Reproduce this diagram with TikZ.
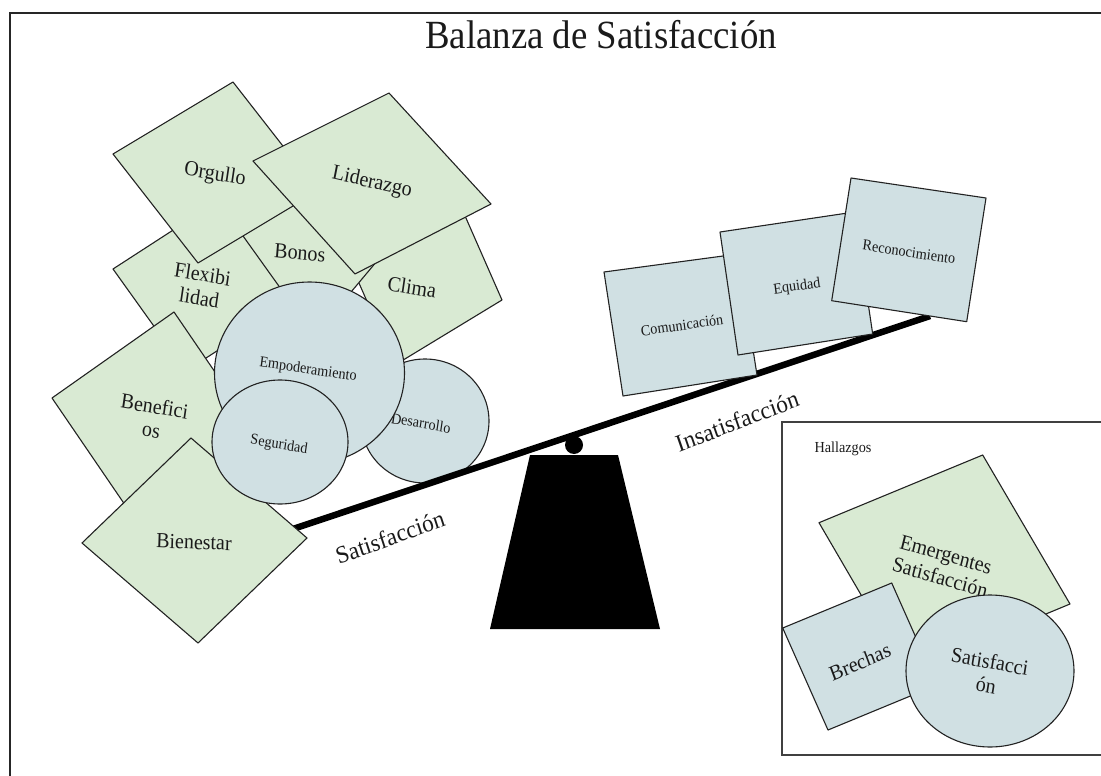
\documentclass[tikz,border=0pt]{standalone}
\usepackage{fontspec}
\setmainfont{Liberation Serif}
\definecolor{cardgreen}{HTML}{D9EAD3}
\definecolor{cardblue}{HTML}{D0E0E3}
\definecolor{edgegray}{HTML}{222222}
\definecolor{inkgray}{HTML}{1A1A1A}
\begin{document}
\begin{tikzpicture}[x=1pt,y=-1pt,
  green card/.style={fill=cardgreen, draw=edgegray, line width=1.1pt, line join=round},
  blue card/.style={fill=cardblue, draw=edgegray, line width=1.1pt, line join=round},
  big label/.style={text=inkgray, font=\fontsize{21.5}{24}\selectfont, align=center, inner sep=0pt, xscale=0.93},
  small label/.style={text=inkgray, font=\fontsize{15.3}{17}\selectfont, inner sep=0pt, xscale=0.93},
  beam label/.style={text=inkgray, font=\fontsize{24.5}{27}\selectfont, inner sep=0pt, xscale=0.95},
  frame line/.style={draw=black!85, line width=1.8pt},
  findings line/.style={draw=black!75, line width=1.6pt}]
\useasboundingbox (0,0) rectangle (1101,776);

% outer frame (open to the right and bottom)
\draw[frame line] (10,776) -- (10,13) -- (1101,13);
\node[text=inkgray, font=\fontsize{40}{44}\selectfont, xscale=0.92, inner sep=0pt] (title) at (601,35) {Balanza de Satisfacción};

% ---- left pan: factors of satisfaction ----
\draw[green card] (462,209) -- (502,300) -- (395,365) -- (355,274) -- cycle;
\node[big label, rotate=-9] (clima) at (412,287) {Clima};

\draw[green card] (300,150) -- (398,236) -- (315,335) -- (225,245) -- cycle;
\node[big label, rotate=-5] (bonos) at (300,253) {Bonos};

\draw[green card] (113,269) -- (218,201) -- (291,303) -- (186,371) -- cycle;
\node[big label, rotate=-9] (flex) at (201,286) {Flexibi\\lidad};

\draw[green card] (233,82) -- (318,191) -- (198,263) -- (113,154) -- cycle;
\node[big label, rotate=-9] (orgullo) at (215,175) {Orgullo};

\draw[green card] (389,93) -- (491,204) -- (355,274) -- (253,161) -- cycle;
\node[big label, rotate=-12] (liderazgo) at (372,183) {Liderazgo};

\draw[green card] (174,312) -- (258,435) -- (136,521) -- (52,398) -- cycle;
\node[big label, rotate=-9] (beneficios) at (153,418) {Benefici\\os};

\draw[blue card] (425,421) ellipse [x radius=64, y radius=62];
\node[small label, rotate=-9] (desarrollo) at (421,423) {Desarrollo};

\draw[blue card] (309.5,373) ellipse [x radius=95, y radius=91];
\node[small label, rotate=-8] (empoderamiento) at (308,370) {Empoderamiento};

% beam of the balance
\coordinate (beamL) at (260,540);
\coordinate (beamR) at (930,316);
\draw[line width=6.5pt] (beamL) -- (beamR);

\draw[green card] (191,438) -- (307,538) -- (198,643) -- (82,543) -- cycle;
\node[big label, rotate=-2] (bienestar) at (194,542) {Bienestar};

\draw[blue card] (280,442) ellipse [x radius=68, y radius=62];
\node[small label, rotate=-9] (seguridad) at (279,445) {Seguridad};

% ---- right pan: factors of dissatisfaction ----
\draw[blue card] (604,272) -- (738,254) -- (757,375) -- (623,396) -- cycle;
\node[small label, rotate=8] (comunicacion) at (682,325) {Comunicación};

\draw[blue card] (720,232) -- (854.5,212) -- (872.7,334) -- (738,355) -- cycle;
\node[small label, rotate=8] (equidad) at (797,287) {Equidad};

\draw[blue card] (851,178) -- (986,198) -- (966.7,321.7) -- (831.7,300.7) -- cycle;
\node[small label, rotate=-8] (reconocimiento) at (909,252) {Reconocimiento};

% pivot and stand
\fill (530,455) -- (618,455) -- (660,629) -- (490,629) -- cycle;
\fill (574,445) circle (9);

\node[beam label, rotate=19] (satisfaccion) at (390,537) {Satisfacción};
\node[beam label, rotate=20] (insatisfaccion) at (737,421) {Insatisfacción};

% ---- findings panel ----
\draw[findings line] (1101,422) -- (782,422) -- (782,755) -- (1101,755);
\node[small label] (hallazgos) at (843,449) {Hallazgos};

\draw[green card] (982.7,455) -- (1070,604) -- (906,672) -- (819,522.7) -- cycle;
\node[big label, rotate=-15] (emergentes) at (943,566) {Emergentes\\Satisfacción};

\draw[blue card] (891.7,583) -- (937,685) -- (828,730) -- (782.7,628) -- cycle;
\node[big label, rotate=22] (brechas) at (860,662) {Brechas};

\draw[blue card] (990,671) ellipse [x radius=84, y radius=76];
\node[big label, rotate=-10] (satisfaccionf) at (988,673) {Satisfacci\\ón};
\end{tikzpicture}
\end{document}
